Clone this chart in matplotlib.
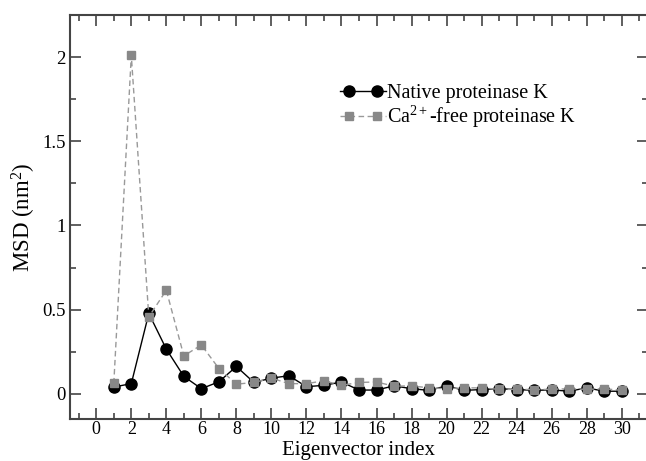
import matplotlib
matplotlib.use("Agg")
import matplotlib.pyplot as plt
from matplotlib.legend_handler import HandlerLine2D, HandlerTuple
from matplotlib.lines import Line2D
from matplotlib.ticker import MultipleLocator

plt.rcParams['font.family'] = ['Liberation Serif', 'DejaVu Serif']
plt.rcParams['mathtext.fontset'] = 'custom'
plt.rcParams['mathtext.rm'] = 'Liberation Serif'
plt.rcParams['mathtext.it'] = 'Liberation Serif:italic'

eigen_index = list(range(1, 31))
native = [0.04, 0.06, 0.477, 0.265, 0.103, 0.03, 0.071, 0.162, 0.067, 0.093,
          0.107, 0.042, 0.05, 0.07, 0.022, 0.022, 0.047, 0.03, 0.02, 0.047,
          0.02, 0.025, 0.03, 0.025, 0.02, 0.023, 0.015, 0.035, 0.015, 0.015]
ca_free = [0.061, 2.01, 0.457, 0.615, 0.225, 0.29, 0.15, 0.057, 0.067, 0.093,
           0.06, 0.06, 0.077, 0.05, 0.067, 0.07, 0.045, 0.047, 0.035, 0.03,
           0.035, 0.035, 0.026, 0.026, 0.025, 0.026, 0.03, 0.026, 0.03, 0.02]
label_native = "Native proteinase K"
label_ca = "Ca$^{2+}$-free proteinase K"

W, H = 646, 461
fig = plt.figure(figsize=(W / 100, H / 100), dpi=100)
ax = fig.add_axes([70 / W, 42 / H, (648 - 70) / W, 404 / H])

gray = '#888888'
ax.plot(eigen_index, native, color='black', lw=1.0, marker='o', ms=8,
        mfc='black', mec='black', zorder=3)
ax.plot(eigen_index, ca_free, color='#999999', lw=1.0, ls=(0, (4, 2.5)),
        marker='s', ms=6, mfc=gray, mec=gray, zorder=4)

ax.set_xlim(-1.5, 31.5)
ax.set_ylim(-0.15, 2.25)
ax.xaxis.set_major_locator(MultipleLocator(2))
ax.xaxis.set_minor_locator(MultipleLocator(1))
ax.yaxis.set_major_locator(MultipleLocator(0.5))
ax.yaxis.set_minor_locator(MultipleLocator(0.25))
ax.set_yticks([0, 0.5, 1, 1.5, 2])
ax.set_yticklabels(['0', '0.5', '1', '1.5', '2'])
ax.set_xticks(range(0, 31, 2))

spine_c = '#444444'
for s in ax.spines.values():
    s.set_linewidth(1.5)
    s.set_color(spine_c)
ax.tick_params(which='both', direction='in', top=True, right=True,
               color=spine_c, labelsize=13.5, width=1.2)
ax.tick_params(axis='x', pad=1.5, labelsize=13)
ax.tick_params(axis='y', pad=3)
ax.tick_params(which='major', length=8)
ax.tick_params(which='minor', length=4)

ax.set_xlabel("Eigenvector index", fontsize=15)
ax.xaxis.set_label_coords(0.5, -21.5 / 404)
ax.set_ylabel("MSD (nm$^2$)", fontsize=16.5, labelpad=3)

# legend handles: line longer than the marker span
ln1 = Line2D([], [], color='black', lw=1.0)
mk1 = Line2D([], [], color='black', ls='none', marker='o', ms=8)
ln2 = Line2D([], [], color='#999999', lw=1.0, ls=(0, (4, 2.5)))
mk2 = Line2D([], [], color=gray, ls='none', marker='s', ms=6)
hmap = {ln1: HandlerLine2D(marker_pad=0.0), ln2: HandlerLine2D(marker_pad=0.0),
        mk1: HandlerLine2D(marker_pad=0.45), mk2: HandlerLine2D(marker_pad=0.45),
        tuple: HandlerTuple(ndivide=1, pad=0)}
leg = ax.legend([(ln1, mk1), (ln2, mk2)], [label_native, label_ca],
                handler_map=hmap, numpoints=2, frameon=False, fontsize=14.5,
                handlelength=2.3, handletextpad=0.05, labelspacing=0.03,
                loc='upper left', bbox_to_anchor=((340 - 70) / 578, 1 - (84 - 15) / 404),
                borderaxespad=0, borderpad=0)

fig.savefig("out.png", dpi=100)
